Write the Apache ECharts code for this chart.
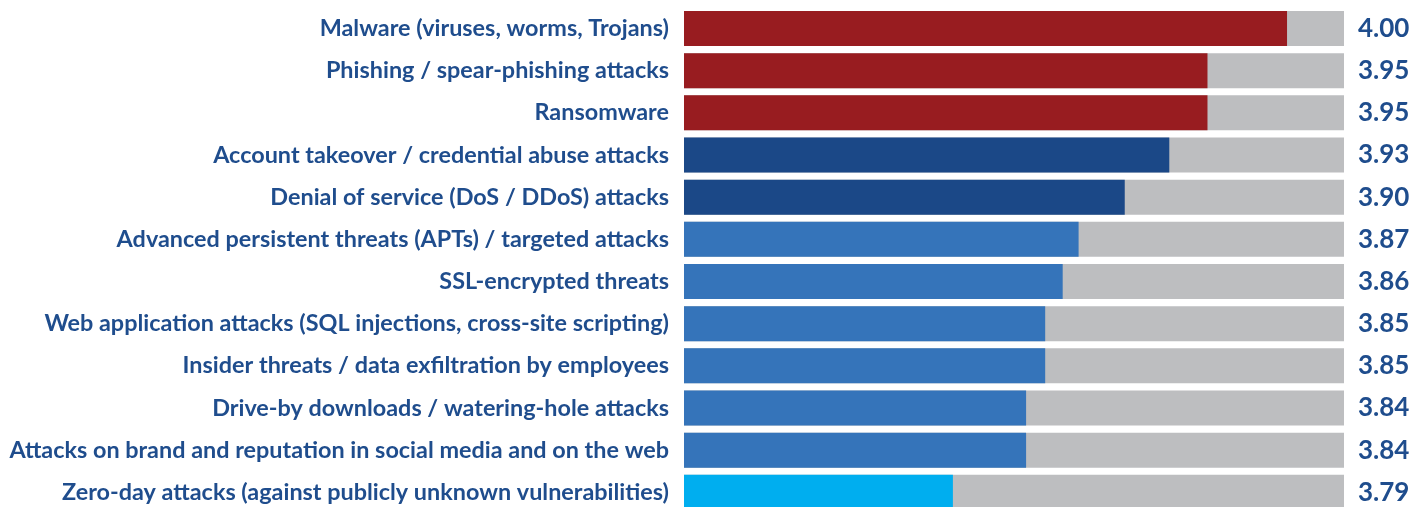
<!DOCTYPE html>
<html>
<head>
<meta charset="utf-8">
<script src="https://cdn.jsdelivr.net/npm/echarts@6/dist/echarts.min.js"></script>
<style>
  html, body { margin: 0; padding: 0; background: #fff; overflow: hidden; }
  #chart { width: 1422px; height: 516px; }
</style>
</head>
<body>
<div id="chart"></div>
<script>
// threat categories, top to bottom
const categories = [
  'Malware (viruses, worms, Trojans)',
  'Phishing / spear-phishing attacks',
  'Ransomware',
  'Account takeover / credential abuse attacks',
  'Denial of service (DoS / DDoS) attacks',
  'Advanced persistent threats (APTs) / targeted attacks',
  'SSL-encrypted threats',
  'Web application attacks (SQL injections, cross-site scripting)',
  'Insider threats / data exfiltration by employees',
  'Drive-by downloads / watering-hole attacks',
  'Attacks on brand and reputation in social media and on the web',
  'Zero-day attacks (against publicly unknown vulnerabilities)'
]
// bar lengths
const scores = [4.00, 3.950, 3.950, 3.926, 3.898, 3.869, 3.859, 3.848, 3.848, 3.836, 3.836, 3.79]
// printed score labels
const scoreLabels = ['4.00', '3.95', '3.95', '3.93', '3.90', '3.87', '3.86', '3.85', '3.85', '3.84', '3.84', '3.79']
// colour group of each bar
const groups = ['red', 'red', 'red', 'dark', 'dark', 'mid', 'mid', 'mid', 'mid', 'mid', 'mid', 'light']

const axisMin = 3.621
const axisMax = 4.0358

const groupColors = { red: '#981c20', dark: '#1b4887', mid: '#3574ba', light: '#00aeef' }
const textColor = '#1f4d8d'
const font = 'Lato'

const chart = echarts.init(document.getElementById('chart'))
chart.setOption({
  animation: false,
  grid: { left: 684, right: 78, top: 7.4, height: 506 },
  xAxis: {
    type: 'value',
    min: axisMin,
    max: axisMax,
    show: false
  },
  yAxis: {
    type: 'category',
    inverse: true,
    data: categories,
    axisLine: { show: false },
    axisTick: { show: false },
    axisLabel: {
      margin: 15,
      color: textColor,
      fontFamily: font,
      fontWeight: 'bold',
      fontSize: 23.4
    }
  },
  series: [
    {
      // grey track behind each bar
      type: 'bar',
      barWidth: 35,
      barGap: '-100%',
      silent: true,
      itemStyle: { color: '#bdbec0' },
      label: {
        show: true,
        position: 'right',
        distance: 14,
        color: textColor,
        fontFamily: font,
        fontWeight: 'bold',
        fontSize: 26,
        formatter: p => scoreLabels[p.dataIndex]
      },
      data: categories.map(() => axisMax)
    },
    {
      type: 'bar',
      barWidth: 35,
      barGap: '-100%',
      data: scores.map((v, i) => ({ value: v, itemStyle: { color: groupColors[groups[i]] } }))
    }
  ]
})
</script>
</body>
</html>
